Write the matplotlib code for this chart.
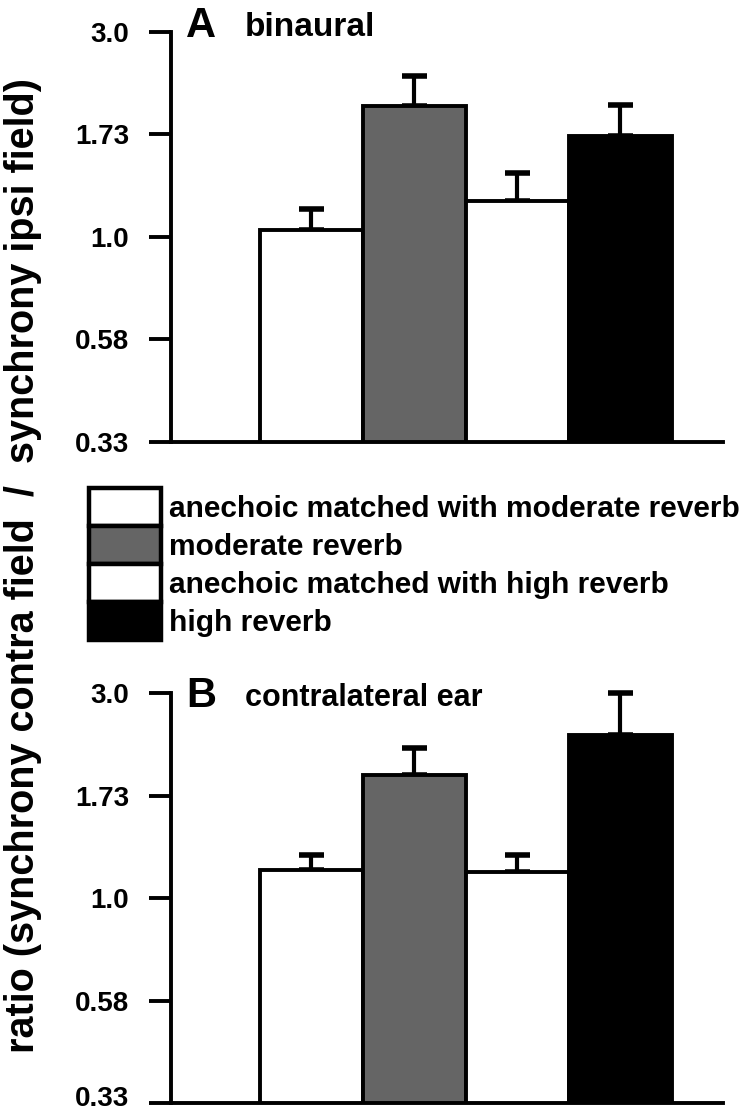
import numpy as np
import matplotlib
matplotlib.use('Agg')
import matplotlib.pyplot as plt
import matplotlib.transforms as mtransforms
from matplotlib.patches import Patch, Rectangle
from matplotlib.legend_handler import HandlerPatch
from matplotlib.ticker import NullLocator

plt.rcParams['font.family'] = ['Liberation Sans', 'DejaVu Sans']
plt.rcParams['font.weight'] = 'bold'

# data
conditions = ['anechoic matched with moderate reverb', 'moderate reverb',
              'anechoic matched with high reverb', 'high reverb']
bar_colors = ['white', '#656565', 'white', 'black']

binaural = [1.04, 2.02, 1.21, 1.72]
binaural_top = [1.16, 2.37, 1.41, 2.03]     # upper end of error bar

contra = [1.16, 1.93, 1.15, 2.40]
contra_top = [1.26, 2.23, 1.26, 3.0]

tick_vals = [3**-1, 3**-0.5, 1.0, 3**0.5, 3.0]
tick_labels = ['0.33', '0.58', '1.0', '1.73', '3.0']

fig = plt.figure(figsize=(7.5, 11.11), dpi=100)


def draw_panel(rect, vals, tops):
    ax = fig.add_axes(rect)
    x = np.arange(1, len(vals) + 1)
    ax.bar(x, vals, width=1.0, color=bar_colors, edgecolor='black',
           linewidth=2.8, zorder=2)
    vals = np.array(vals)
    up = np.array(tops) - vals
    ax.errorbar(x, vals, yerr=[np.zeros_like(up), up], fmt='none',
                ecolor='black', elinewidth=3, capsize=9, capthick=4,
                zorder=1, clip_on=False)
    ax.set_yscale('log')
    ax.set_ylim(1/3, 3)
    ax.set_xlim(-0.36, 5.0)
    ax.set_yticks(tick_vals)
    ax.set_yticklabels(tick_labels)
    ax.yaxis.set_minor_locator(NullLocator())
    ax.set_xticks([])
    for s in ['top', 'right']:
        ax.spines[s].set_visible(False)
    for s in ['left', 'bottom']:
        ax.spines[s].set_linewidth(2.8)
    ax.tick_params(axis='y', direction='out', length=16, width=2.8,
                   pad=14, labelsize=20)
    for lab in ax.get_yticklabels():
        lab.set_fontweight('bold')
    return ax


axA = draw_panel([0.228, 0.6022, 0.736, 0.369], binaural, binaural_top)
axB = draw_panel([0.228, 0.0072, 0.736, 0.369], contra, contra_top)

# lowest label of the bottom panel sits a little higher so it stays on the page
low = axB.get_yticklabels()[0]
low.set_transform(low.get_transform() +
                  mtransforms.ScaledTranslation(0, 5/72, fig.dpi_scale_trans))

# panel titles
fig.text(186/750, 1 - 37/1111, 'A', fontsize=30, fontweight='bold', va='baseline')
fig.text(245/750, 1 - 36/1111, 'binaural', fontsize=24, fontweight='bold', va='baseline')
fig.text(186/750, 1 - 707/1111, 'B', fontsize=30, fontweight='bold', va='baseline')
fig.text(245/750, 1 - 706/1111, 'contralateral ear', fontsize=22, fontweight='bold',
         va='baseline')

# shared y label
fig.text(0.031, 0.4914, 'ratio (synchrony contra field  /  synchrony ipsi field)',
         rotation=90, ha='center', va='center', fontsize=28.5, fontweight='bold')


# legend boxes stacked so they touch, like the reference
def tall_box(legend, orig_handle, xdescent, ydescent, width, height, fontsize):
    extra = 0.14 * fontsize
    return Rectangle((-xdescent, -ydescent - extra), width, height + 2 * extra)


handles = [Patch(facecolor=c, edgecolor='black', linewidth=3.2) for c in bar_colors]
fig.legend(handles, conditions, loc='upper left',
           bbox_to_anchor=(89/750, 1 - 492/1111), frameon=False,
           fontsize=21.5, handlelength=2.4, handleheight=1.15,
           handletextpad=0.28, labelspacing=0.24, borderpad=0, borderaxespad=0,
           handler_map={Patch: HandlerPatch(patch_func=tall_box)})

fig.savefig('out.png', dpi=100)
